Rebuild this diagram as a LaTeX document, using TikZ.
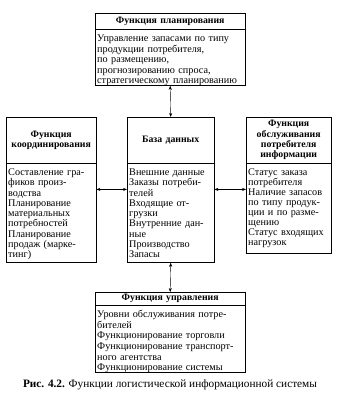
\documentclass[tikz,border=0pt]{standalone}
\usepackage{fontspec}
\setmainfont{Liberation Serif}
\usetikzlibrary{arrows.meta}

\tikzset{
	boxhead/.style={draw, thin, anchor=north west, align=center, inner xsep=2pt, inner ysep=0pt,
		font=\fontsize{9.8}{10.3}\selectfont\bfseries},
	boxbody/.style={draw, thin, anchor=north west, align=left, inner xsep=2pt, inner ysep=2pt,
		text height=10pt, font=\fontsize{10.2}{10.25}\selectfont},
	link/.style={thin, {Stealth[length=4pt,width=3pt]}-{Stealth[length=4pt,width=3pt]}}
}

\begin{document}
\begin{tikzpicture}[x=1pt,y=-1pt]
	\useasboundingbox (0,0) rectangle (337,401);
	% planning
	\node[boxhead, text width=146pt, minimum height=16pt] (plh) at (95,13) {Функция планирования};
	\node[boxbody, text width=146pt, text depth=42pt, font=\fontsize{10.2}{10.5}\selectfont] (plb) at (plh.south west)
		{Управление запасами по типу\\продукции потребителя,\\по размещению,\\прогнозированию спроса,\\стратегическому планированию};
	% coordination
	\node[boxhead, text width=86pt, minimum height=46pt] (coh) at (6,117) {Функция\\координирования};
	\node[boxbody, text width=86pt, text depth=85pt] (cob) at (coh.south west)
		{Составление гра-\\фиков произ-\\водства\\Планирование\\материальных\\потребностей\\Планирование\\продаж (марке-\\тинг)};
	% database
	\node[boxhead, text width=83pt, minimum height=46pt] (dbh) at (127,117) {База данных};
	\node[boxbody, text width=83pt, text depth=85pt] (dbb) at (dbh.south west)
		{Внешние данные\\Заказы потреби-\\телей\\Входящие от-\\грузки\\Внутренние дан-\\ные\\Производство\\Запасы};
	% customer service
	\node[boxhead, text width=81pt, minimum height=46pt] (srh) at (246,117) {Функция\\обслуживания\\потребителя\\информации};
	\node[boxbody, text width=81pt, text depth=76pt, font=\fontsize{10.2}{10}\selectfont] (srb) at (srh.south west)
		{Статус заказа\\потребителя\\Наличие запасов\\по типу продук-\\ции и по разме-\\щению\\Статус входящих\\нагрузок};
	% control
	\node[boxhead, text width=146pt, minimum height=13pt] (cth) at (95,292) {Функция управления};
	\node[boxbody, text width=146pt, text depth=53pt, font=\fontsize{10.2}{10.6}\selectfont] (ctb) at (cth.south west)
		{Уровни обслуживания потре-\\бителей\\Функционирование торговли\\Функционирование транспорт-\\ного агентства\\Функционирование системы};

	\draw[link] (plb.south) -- (dbh.north);
	\draw[link] (dbb.south) -- (cth.north);
	\draw[link] ([yshift=-26pt]cob.north east) -- ([yshift=-26pt]dbb.north west);
	\draw[link] ([yshift=-26pt]dbb.north east) -- ([yshift=-26pt]srb.north west);

	\node[font=\fontsize{11.3}{12}\selectfont] (cap) at (170,385)
		{\textbf{Рис. 4.2.} Функции логистической информационной системы};
\end{tikzpicture}
\end{document}
